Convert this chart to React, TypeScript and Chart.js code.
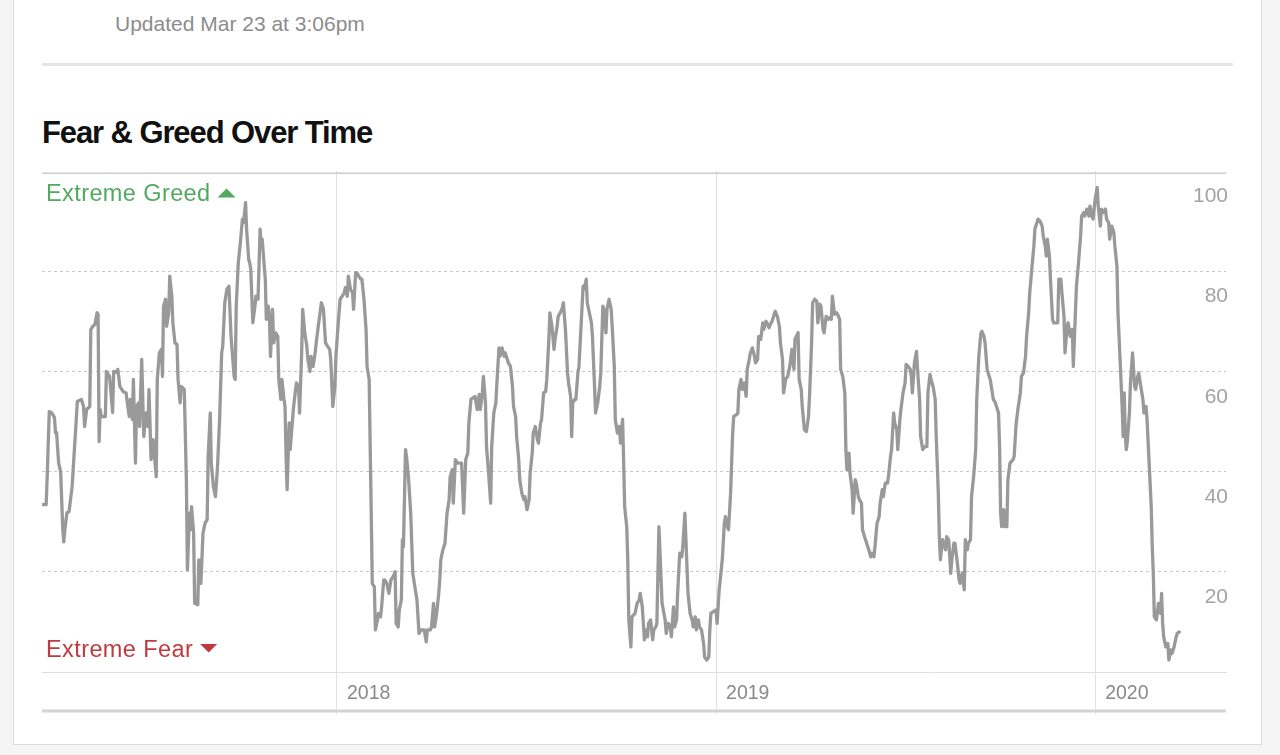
import React, { useEffect, useRef } from 'react';
import { Chart, registerables } from 'chart.js';

Chart.register(...registerables);

// Day number counted from 2017-01-01 (day 0)
const days = [
  81, 85, 86, 88, 90, 93, 94, 95, 97, 99, 101, 102, 103, 105, 107, 110, 111, 114, 115, 119,
  121, 122, 124, 127, 128, 130, 132, 134, 135, 136, 137, 138, 142, 143, 146, 147, 149, 150, 153, 154,
  156, 159, 162, 163, 165, 166, 168, 169, 171, 172, 174, 175, 177, 179, 181, 183, 184, 186, 188, 189,
  191, 192, 194, 196, 197, 198, 200, 201, 203, 204, 206, 207, 209, 211, 212, 214, 215, 218, 220, 221,
  223, 224, 225, 227, 228, 231, 232, 234, 236, 238, 240, 241, 243, 244, 246, 248, 250, 252, 254, 255,
  257, 259, 261,
  263, 266, 267, 268, 270, 272, 274, 275, 277, 278, 280, 281, 282, 284, 286, 287, 289, 291, 292, 293,
  295, 296, 297, 299, 300, 301, 303, 304, 306, 308, 309, 311, 312, 314, 315, 316, 317, 319, 320, 323,
  324, 326, 328, 329, 331, 332, 334, 336, 337, 339, 340, 342, 344, 345, 347, 350, 352, 354, 356, 358,
  359, 361, 363, 364, 366, 368, 370, 372, 373, 375, 376, 378, 380, 381, 383, 384, 386, 388, 389, 391,
  393, 394, 396, 397, 398, 399, 401, 402, 404, 405, 407, 408, 410, 411, 413, 415, 417, 419, 421, 422,
  424, 425, 427, 428, 429, 431, 432, 434, 436, 438, 440, 442,
  444, 446, 449, 451, 452, 455, 456, 458, 459, 461, 463, 464, 465, 467, 469, 471, 473, 474, 476, 477,
  479, 481, 483, 485, 487, 489, 491, 492, 494, 496, 498, 500, 502, 503, 505, 506, 508, 509, 511, 513,
  514, 516, 518, 519, 521, 522, 524, 526, 527, 529, 530, 532, 534, 535, 537, 538, 540, 541, 543, 545,
  546, 548, 550, 551, 553, 554, 556, 558, 559, 561, 562, 564, 566, 567, 569, 570, 572, 574, 575, 577,
  578, 580, 582, 583, 585, 587, 588, 590, 591, 592, 594, 595, 597, 598, 600, 602, 603, 605, 606, 608,
  610, 611, 613, 614, 616, 618, 619, 621,
  622, 624, 625, 627, 629, 630, 632, 633, 635, 637, 638, 640, 641, 642, 644, 645, 646, 648, 649, 652,
  654, 656, 657, 659, 661, 662, 664, 665, 667, 669, 670, 672, 673, 675, 677, 678, 681, 682, 684, 686,
  687, 689, 690, 692, 693, 695, 697, 698, 700, 702, 703, 705, 707, 708, 710, 711, 713, 714, 716, 718,
  719, 721, 723, 724, 725, 727, 730, 731, 733, 734, 736, 738, 739, 741, 742, 744, 746, 747, 750, 751,
  752, 754, 755, 757, 759, 760, 762, 763, 765, 767, 768, 770, 771, 773, 775, 776, 778, 779, 781, 783,
  784, 786, 787, 789, 791, 792, 794, 795, 797, 799, 801,
  803, 805, 806, 809, 810, 812, 813, 815, 817, 819, 820, 822, 823, 825, 827, 828, 830, 831, 833, 834,
  836, 838, 839, 841, 842, 844, 846, 847, 849, 850, 852, 854, 855, 856, 858, 859, 861, 862, 864, 865,
  867, 868, 870, 871, 873, 875, 877, 879, 880, 882, 883, 885, 887, 888, 890, 891, 893, 895, 896, 898,
  899, 901, 902, 904, 905, 907, 908, 910, 912, 913, 915, 917, 918, 919, 921, 923, 924, 926, 927, 929,
  931, 933, 934, 936, 937, 939, 941, 942, 944, 945, 946, 948, 949, 951, 952, 954, 956, 957, 959, 960,
  962, 964, 965, 967, 969, 970, 972, 973, 975, 976, 978, 980, 981, 983, 985, 986, 988, 989, 991, 993,
  994,
  997, 999, 1000, 1002, 1003, 1004, 1005, 1007, 1008, 1010, 1011, 1013, 1016, 1017, 1019, 1021, 1023, 1024, 1026, 1028,
  1029, 1031, 1032, 1034, 1036, 1037, 1039, 1040, 1042, 1044, 1045, 1047, 1048, 1049, 1051, 1052, 1054, 1055, 1057, 1059,
  1060, 1062, 1063, 1065, 1066, 1068, 1069, 1071, 1073, 1074, 1076, 1077, 1079, 1081, 1082, 1084, 1085, 1087, 1089, 1090,
  1092, 1093, 1095, 1097, 1098, 1100, 1101, 1103, 1105, 1106, 1108, 1109, 1111, 1113, 1114, 1116, 1117, 1119, 1121, 1122,
  1123, 1124, 1125, 1126, 1128, 1129, 1131, 1133, 1134, 1136, 1137, 1139, 1141, 1142, 1144, 1145, 1147, 1149, 1150, 1151,
  1152, 1154, 1156, 1158, 1159, 1160, 1161, 1163, 1165, 1166, 1168, 1169, 1171, 1173, 1174, 1176,
];

const fgIndex = [
  33.4, 33.4, 39, 52, 51.8, 50.8, 47.8, 47.8, 41.8, 39.8, 28.4, 26, 28.4, 31.8, 32, 37, 40.4, 50.4, 54, 54.4,
  53, 49, 52.4, 53, 68.4, 69, 69.4, 71.7, 71.4, 46, 52.4, 51, 51, 60, 59, 56.8, 51.8, 60, 59.8, 60.4,
  57, 56, 55.7, 54, 51, 54.4, 50.4, 58.4, 41.7, 53, 53.7, 49, 62.4, 47, 51.7, 49, 56.4, 42.4, 46.4, 43.7,
  39, 58.4, 63.7, 64.4, 59, 73, 74.4, 69, 71.7, 79, 75, 69.7, 65.7, 65.4, 58.4, 53.7, 57, 56.4, 38.4, 20.4,
  31.7, 28.4, 33, 27.7, 13.7, 13.4, 22.4, 17.7, 27.7, 29.7, 30.4, 43, 51.7, 41.7, 37, 35, 41, 50.4, 63.7, 65,
  73.7, 76.4, 77,
  67, 59, 58.4, 73, 81.7, 85.7, 90.4, 89.7, 93.7, 88.4, 82.4, 81.7, 80.4, 69.7, 73, 75, 74.4, 88.4, 85, 86.4,
  81, 78.4, 70.4, 73, 70.4, 63, 72.4, 65.7, 67.7, 67, 58.4, 54.4, 58.4, 54.4, 53, 43, 36.4, 49.7, 44.4, 52.4,
  54.4, 57.7, 57, 51.7, 63.7, 72.4, 67.7, 65, 62.4, 60, 63, 61, 63.7, 65.7, 69, 73.7, 72.4, 65.7, 65, 64.4,
  62.4, 53, 57, 63, 69, 74.4, 75, 75.7, 76.7, 75, 79, 76.4, 75.7, 72.4, 79.7, 79.7, 79, 78.4, 78.4, 74.4,
  68.4, 61, 58.4, 45, 31.7, 17.7, 17, 8.4, 10.4, 11.7, 11, 13, 18.4, 18.4, 17.7, 15.7, 18.4, 19, 20, 9.7,
  9, 12.4, 14.4, 26.4, 25, 44.4, 43, 38.4, 31.7, 19.7, 17, 14.4,
  7.7, 8.4, 8.4, 6, 8.4, 8.4, 9, 13.7, 9, 11.7, 15.7, 18.4, 22.4, 24.4, 25.7, 31.7, 34.4, 39, 40.4, 33.7,
  42.4, 41.7, 41.7, 41.7, 31.7, 42.4, 43.7, 49.7, 54.4, 54.7, 55, 52.4, 55.4, 52.4, 55.7, 59, 53.7, 45, 39.7, 33.7,
  45, 51.7, 53.7, 57.7, 64.7, 63, 64.7, 63, 63.7, 62.4, 61.7, 61, 57, 53, 51, 47, 42.4, 38.4, 35.7, 34.4,
  35, 32.4, 34.4, 39.7, 43.7, 47.7, 49, 46.4, 45.7, 49.7, 50.4, 55.7, 56, 58.4, 66.4, 71.7, 69, 64.4, 66.4, 69,
  71, 71.7, 72.7, 73.7, 68.4, 59.7, 57.7, 55, 47, 53.7, 54.4, 54.4, 59.7, 61, 69, 77, 76.4, 78.4, 73.7, 71.7,
  69.7, 67, 57, 51.7, 53.7, 57, 59.7, 73,
  72.4, 67.7, 72.4, 74.4, 72.4, 69, 61, 50.4, 47.7, 49, 45.7, 50.4, 42.4, 33, 29, 22.4, 10.4, 5, 11, 11.7,
  13.7, 14.4, 15.7, 13, 6.4, 8.4, 7, 9.7, 10.4, 6.4, 8.4, 9, 9.7, 29, 19, 13.7, 10.4, 7.7, 9.7, 9,
  7, 13, 9, 10.4, 15.7, 23.7, 23, 25, 31.7, 21, 15.7, 11.7, 10.4, 9, 11, 8.4, 10.4, 9, 8.4, 5.7,
  3, 2.4, 3, 8.4, 11.7, 12, 12.4, 9.7, 16.4, 18.4, 22.4, 29.7, 31, 29, 28.4, 35.7, 47.7, 51, 51.4, 51.7,
  56.4, 58.4, 56.4, 57.7, 55, 60.4, 62.4, 63.7, 64.7, 63, 61.7, 62.4, 67, 66.4, 69.7, 68.4, 70, 69.7, 68.7, 69.7,
  70, 71.4, 72, 71, 69, 65.7, 62.4, 55.7, 58.4, 59, 61,
  64.4, 60.4, 66.4, 67.7, 58.4, 56.4, 53, 48.4, 48, 51, 55, 65.7, 73.7, 74.4, 74, 69.7, 73.4, 73, 68.4, 67.7,
  71, 70.4, 70.7, 70.4, 75, 71.4, 71.7, 71.4, 70.4, 60.4, 59, 55.7, 44.4, 40.4, 43.7, 39.7, 36.4, 31.7, 38.4, 37.7,
  35, 34.4, 33.7, 28.4, 27, 25.7, 24.4, 23, 23.7, 23, 25, 29.7, 31, 33.7, 36.4, 35, 37.7, 37.7, 39, 43,
  44.4, 51.7, 49.7, 48.4, 44.4, 50.4, 52.4, 55.7, 57.7, 61.4, 61, 60.4, 59, 55.7, 61.7, 64, 60.4, 54.4, 47, 44.4,
  45, 45, 55.7, 59.4, 58.4, 57, 54.4, 47, 35.7, 27, 22.4, 26.4, 25.7, 24.4, 27, 26.4, 19.7, 22.4, 25.7, 25.7,
  22.4, 18.4, 17.7, 19.7, 16.4, 26.4, 24.4, 25.7, 26.4, 35, 39, 44.4, 54.4, 63, 67.7, 68, 67, 65.7, 60.4, 59,
  58.4,
  54.4, 53.7, 53, 51.7, 45, 31.7, 29, 32.4, 29, 29, 38.4, 41.7, 42.4, 43, 49.7, 53, 55.7, 59, 59.7, 63,
  67, 71.7, 75.7, 80.4, 85, 88.4, 89.7, 90.4, 90, 89, 87, 85, 83, 86.4, 83, 78.4, 70.4, 69.7, 69.7, 69.7,
  78.4, 78.4, 75.7, 71, 63.7, 69, 69.7, 67, 68.4, 61, 71.7, 77, 81.7, 87, 91, 91.7, 91, 92.4, 91, 93,
  91, 90.4, 94.4, 96.7, 93, 89, 92.4, 91.7, 92.4, 90.4, 89.7, 86.4, 89, 87.7, 85, 81, 71.7, 62.4, 53, 47,
  55.7, 47.7, 44.4, 46, 51.7, 57.7, 63.7, 57, 56.4, 59, 59.7, 57, 54.4, 51.7, 53, 50.4, 41.7, 33, 25, 19.7,
  11, 10.4, 13.7, 11.7, 15.7, 9.7, 7, 5, 5.7, 2.4, 4.4, 3.7, 5, 7, 7.7, 8,
];

const yearTicks = [365, 730, 1095];
const yearLabels = ['2018', '2019', '2020'];
const X_MIN = 81;
const X_MAX = 1221;
const Y_MIN = 0;
const Y_MAX = 100;
const Y_STEP = 20;

const updatedText = 'Updated Mar 23 at 3:06pm';
const titleText = 'Fear & Greed Over Time';
const greedLabel = 'Extreme Greed';
const fearLabel = 'Extreme Fear';

const FONT = "'Liberation Sans', Arial, Helvetica, sans-serif";

export default function App() {
  const canvasRef = useRef<HTMLCanvasElement>(null);

  useEffect(() => {
    const canvas = canvasRef.current;
    if (!canvas) return;

    const decorPlugin = {
      id: 'decor',
      beforeDatasetsDraw(chart: any) {
        const { ctx, chartArea: a } = chart;
        ctx.save();
        // top rule
        ctx.fillStyle = '#cbcbcb';
        ctx.fillRect(a.left, a.top + 1.5, a.right - a.left, 1.5);
        // thick bottom rule
        ctx.fillStyle = '#d3d3d3';
        ctx.fillRect(a.left, a.bottom + 37.5, a.right - a.left, 3);

        ctx.font = `23.5px ${FONT}`;
        (ctx as any).letterSpacing = '0.4px';
        ctx.textAlign = 'left';
        ctx.textBaseline = 'alphabetic';

        // Extreme Greed
        const gx = a.left + 4;
        const gy = a.top + 30;
        ctx.fillStyle = '#52a95f';
        ctx.fillText(greedLabel, gx, gy);
        const gw = ctx.measureText(greedLabel).width;
        const tgx = gx + gw + 7;
        ctx.beginPath();
        ctx.moveTo(tgx, gy - 3.5);
        ctx.lineTo(tgx + 18, gy - 3.5);
        ctx.lineTo(tgx + 9, gy - 12.5);
        ctx.closePath();
        ctx.fill();

        // Extreme Fear
        const fx = a.left + 4;
        const fy = a.bottom - 15;
        ctx.fillStyle = '#bf3a40';
        ctx.fillText(fearLabel, fx, fy);
        const fw = ctx.measureText(fearLabel).width;
        const tfx = fx + fw + 7;
        ctx.beginPath();
        ctx.moveTo(tfx, fy - 13);
        ctx.lineTo(tfx + 17, fy - 13);
        ctx.lineTo(tfx + 8.5, fy - 4.5);
        ctx.closePath();
        ctx.fill();
        ctx.restore();
      },
    };

    const chart = new Chart(canvas, {
      type: 'line',
      data: {
        datasets: [
          {
            data: days.map((d, i) => ({ x: d, y: fgIndex[i] })),
            borderColor: '#999999',
            borderWidth: 3.3,
            pointRadius: 0,
            tension: 0,
            fill: false,
            borderJoinStyle: 'round',
            borderCapStyle: 'round',
          },
        ],
      },
      options: {
        responsive: false,
        animation: false,
        devicePixelRatio: 1,
        layout: { padding: { left: 42, right: 54, top: 171, bottom: 43 } },
        plugins: {
          legend: { display: false },
          tooltip: { enabled: false },
        },
        scales: {
          x: {
            type: 'linear',
            min: X_MIN,
            max: X_MAX,
            afterFit: (s: any) => {
              s.height = 40;
            },
            afterBuildTicks: (s: any) => {
              s.ticks = yearTicks.map((v) => ({ value: v }));
            },
            grid: {
              color: '#e1e1e1',
              lineWidth: 1,
              drawTicks: true,
              tickLength: 42,
              tickColor: '#e1e1e1',
            },
            border: { display: true, color: '#dfdfdf', width: 1 },
            ticks: {
              align: 'start',
              labelOffset: 10,
              padding: -32,
              autoSkip: false,
              maxRotation: 0,
              color: '#898989',
              font: { size: 19.5, family: FONT },
              callback: (v: any) => {
                const i = yearTicks.indexOf(Number(v));
                return i >= 0 ? yearLabels[i] : '';
              },
            },
          },
          y: {
            position: 'right',
            min: Y_MIN,
            max: Y_MAX,
            afterFit: (s: any) => {
              s.width = 0;
            },
            grid: {
              drawTicks: false,
              lineWidth: 1,
              color: (c: any) =>
                c.tick && (c.tick.value === Y_MIN || c.tick.value === Y_MAX)
                  ? 'rgba(0,0,0,0)'
                  : '#c6c6c6',
            },
            border: { display: false, dash: [3, 3] },
            ticks: {
              stepSize: Y_STEP,
              mirror: true,
              padding: 2,
              labelOffset: 25.5,
              color: '#a3a3a3',
              font: { size: 21, family: FONT },
              callback: (v: any) => (Number(v) === Y_MIN ? '' : String(v)),
            },
          },
        },
      },
      plugins: [decorPlugin],
    } as any);

    return () => chart.destroy();
  }, []);

  return (
    <div
      style={{
        position: 'fixed',
        left: 0,
        top: 0,
        width: 1280,
        height: 755,
        background: '#f5f5f5',
        overflow: 'hidden',
        fontFamily: FONT,
      }}
    >
      <div
        style={{
          position: 'absolute',
          left: 13,
          top: -2,
          width: 1249,
          height: 747,
          background: '#ffffff',
          border: '1px solid #dcdcdc',
          boxSizing: 'border-box',
        }}
      />
      <div
        style={{
          position: 'absolute',
          left: 115,
          top: 13,
          fontSize: 21,
          lineHeight: '21px',
          color: '#8c8c8c',
          whiteSpace: 'nowrap',
        }}
      >
        {updatedText}
      </div>
      <div
        style={{
          position: 'absolute',
          left: 42,
          top: 63,
          width: 1191,
          height: 3,
          background: '#e4e4e4',
        }}
      />
      <div
        style={{
          position: 'absolute',
          left: 42,
          top: 117,
          fontSize: 31,
          lineHeight: '31px',
          fontWeight: 700,
          letterSpacing: '-1.1px',
          color: '#111111',
          whiteSpace: 'nowrap',
        }}
      >
        {titleText}
      </div>
      <canvas
        ref={canvasRef}
        width={1280}
        height={755}
        style={{ position: 'absolute', left: 0, top: 0, width: 1280, height: 755 }}
      />
    </div>
  );
}
